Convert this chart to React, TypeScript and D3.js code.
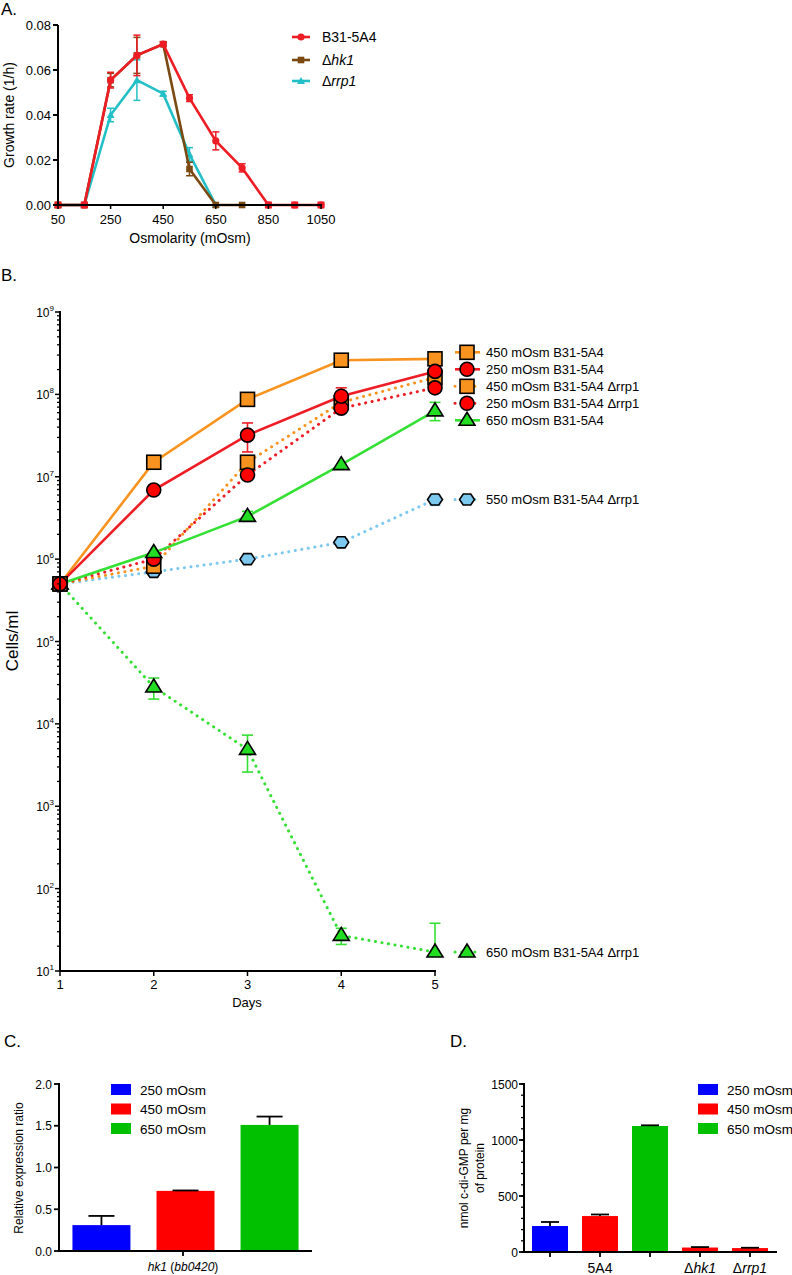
import React from 'react';
import * as d3 from 'd3';

// ---------- Panel A data ----------
const osm = [50, 150, 250, 350, 450, 550, 650, 750, 850, 950, 1050];
const aWT = [0, 0, 0.0555, 0.0665, 0.0715, 0.0475, 0.0285, 0.0165, 0, 0, 0];
const aWTErr = [0, 0, 0.0035, 0.009, 0.001, 0.0015, 0.004, 0.0018, 0, 0, 0];
const aHk1 = [0, 0, 0.0555, 0.0665, 0.0715, 0.016, 0, 0];
const aHk1Err = [0, 0, 0.003, 0.008, 0.001, 0.003, 0, 0];
const aRrp1 = [0, 0, 0.04, 0.0555, 0.0495, 0.0225, 0];
const aRrp1Err = [0, 0, 0.003, 0.009, 0.001, 0.003, 0];
const aYTicks = [0, 0.02, 0.04, 0.06, 0.08];
const aXTicks = [50, 250, 450, 650, 850, 1050];

// ---------- Panel B data ----------
const days = [1, 2, 3, 4, 5];
const b450 = [5e5, 1.5e7, 8.7e7, 2.6e8, 2.7e8];
const b450Lo = [null, null, null, null, 2.5e8];
const b450Hi = [null, null, null, null, 2.95e8];
const b250 = [5e5, 6.9e6, 3.2e7, 9.5e7, 1.9e8];
const b250Lo = [null, null, 2.0e7, 8.0e7, 1.7e8];
const b250Hi = [null, null, 4.5e7, 1.2e8, 2.1e8];
const b450rrp = [5e5, 8.2e5, 1.5e7, 8.0e7, 1.6e8];
const b450rrpLo = [null, 7.5e5, 1.25e7, null, 1.4e8];
const b450rrpHi = [null, 9.0e5, 1.8e7, null, 1.8e8];
const b250rrp = [5e5, 1.0e6, 1.05e7, 6.8e7, 1.2e8];
const b250rrpLo = [null, 8.5e5, null, null, null];
const b250rrpHi = [null, 1.15e6, null, null, null];
const b650 = [5e5, 1.2e6, 3.3e6, 1.4e7, 6.3e7];
const b650Lo = [null, null, 3.0e6, null, 4.8e7];
const b650Hi = [null, null, 3.8e6, null, 8.0e7];
const b550rrp = [5e5, 7.0e5, 1.0e6, 1.6e6, 5.3e6];
const b550rrpLo = [null, null, null, null, 4.5e6];
const b550rrpHi = [null, null, null, null, 6.0e6];
const b650rrp = [5e5, 2.8e4, 4.9e3, 27, 17];
const b650rrpLo = [null, 2.0e4, 2.6e3, 21, null];
const b650rrpHi = [null, 3.6e4, 7.3e3, 33, 38];
const bYExp = [1, 2, 3, 4, 5, 6, 7, 8, 9];

// ---------- Panel C data ----------
const cCats = ['250 mOsm', '450 mOsm', '650 mOsm'];
const cVals = [0.31, 0.72, 1.51];
const cErr = [0.11, 0.005, 0.1];
const cYTicks = [0, 0.5, 1.0, 1.5, 2.0];

// ---------- Panel D data ----------
const dCats = ['a', '5A4', 'b', 'hk1', 'rrp1'];
const dVals = [232, 321, 1125, 40, 35];
const dErr = [36, 14, 6, 4, 3];
const dColorIdx = [0, 1, 2, 1, 1];
const dYTicks = [0, 500, 1000, 1500];

const FONT = "'Liberation Sans', Arial, Helvetica, sans-serif";
const barColors = ['#0000FF', '#FF0000', '#00C000'];

const C = {
  orange: '#F7931E',
  red: '#EE1C24',
  green: '#33E033',
  blue: '#7DC8EE',
  aRed: '#EE1C24',
  aBrown: '#7B4A12',
  aCyan: '#22C0C6',
};

function Marker({ shape, x, y, fill, s = 1 }: any) {
  const st = { fill, stroke: '#000', strokeWidth: 1.6 };
  if (shape === 'square') {
    const h = 7 * s;
    return <rect x={x - h} y={y - h} width={2 * h} height={2 * h} {...st} />;
  }
  if (shape === 'circle') return <circle cx={x} cy={y} r={7 * s} {...st} />;
  if (shape === 'triangle') {
    const w = 8 * s, h = 13 * s;
    return <path d={`M${x},${y - h * 0.62}L${x + w},${y + h * 0.38}L${x - w},${y + h * 0.38}Z`} {...st} />;
  }
  const r = 7.5 * s;
  const pts = d3.range(6).map(i => {
    const a = (Math.PI / 3) * i;
    return `${x + r * Math.cos(a)},${y + r * 0.85 * Math.sin(a)}`;
  });
  return <path d={`M${pts.join('L')}Z`} {...st} />;
}

function SmallMarker({ shape, x, y, color }: any) {
  if (shape === 'circle') return <circle cx={x} cy={y} r={3.6} fill={color} />;
  if (shape === 'square') return <rect x={x - 3.3} y={y - 3.3} width={6.6} height={6.6} fill={color} />;
  return <path d={`M${x},${y - 4}L${x + 4},${y + 3}L${x - 4},${y + 3}Z`} fill={color} />;
}

export default function App() {
  // ---------------- Panel A ----------------
  const xA = d3.scaleLinear().domain([50, 1050]).range([58, 321]);
  const yA = d3.scaleLinear().domain([0, 0.08]).range([205, 25]);
  const lineA = d3.line<number>().x((_, i) => xA(osm[i])).y(d => yA(d));
  const aSeries = [
    { name: 'rrp1', vals: aRrp1, err: aRrp1Err, color: C.aCyan, shape: 'triangle' },
    { name: 'hk1', vals: aHk1, err: aHk1Err, color: C.aBrown, shape: 'square' },
    { name: 'wt', vals: aWT, err: aWTErr, color: C.aRed, shape: 'circle' },
  ];

  // ---------------- Panel B ----------------
  const xB = d3.scaleLinear().domain([1, 5]).range([60, 435]);
  const yB = d3.scaleLog().domain([10, 1e9]).range([971, 312]);
  const lineB = d3.line<number>().x((_, i) => xB(days[i])).y(d => yB(d));
  const bSeries = [
    { label: '650 mOsm B31-5A4 \u0394rrp1', vals: b650rrp, lo: b650rrpLo, hi: b650rrpHi, color: C.green, fill: '#22DD22', shape: 'triangle', dotted: true },
    { label: '550 mOsm B31-5A4 \u0394rrp1', vals: b550rrp, lo: b550rrpLo, hi: b550rrpHi, color: C.blue, fill: '#7DC8EE', shape: 'hex', dotted: true },
    { label: '450 mOsm B31-5A4 \u0394rrp1', vals: b450rrp, lo: b450rrpLo, hi: b450rrpHi, color: C.orange, fill: '#F7931E', shape: 'square', dotted: true },
    { label: '250 mOsm B31-5A4 \u0394rrp1', vals: b250rrp, lo: b250rrpLo, hi: b250rrpHi, color: C.red, fill: '#FF0000', shape: 'circle', dotted: true },
    { label: '650 mOsm B31-5A4', vals: b650, lo: b650Lo, hi: b650Hi, color: C.green, fill: '#22DD22', shape: 'triangle', dotted: false },
    { label: '450 mOsm B31-5A4', vals: b450, lo: b450Lo, hi: b450Hi, color: C.orange, fill: '#F7931E', shape: 'square', dotted: false },
    { label: '250 mOsm B31-5A4', vals: b250, lo: b250Lo, hi: b250Hi, color: C.red, fill: '#FF0000', shape: 'circle', dotted: false },
  ];
  const gap = 17;
  const legendItems = bSeries.map(s => ({ s, y0: yB(s.vals[s.vals.length - 1]) })).sort((a, b) => a.y0 - b.y0);
  const groups: any[][] = [];
  legendItems.forEach(it => {
    const g = groups[groups.length - 1];
    if (g && it.y0 - g[g.length - 1].y0 < gap * 2.5) g.push(it);
    else groups.push([it]);
  });
  const legendPos: any[] = [];
  groups.forEach(g => {
    const mean = d3.mean(g, (d: any) => d.y0) as number;
    const shift = g.length > 1 ? 5 : 0;
    g.forEach((it, i) => legendPos.push({ s: it.s, y: mean + shift + (i - (g.length - 1) / 2) * gap }));
  });
  const minorB: number[] = [];
  for (let e = 1; e < 9; e++) for (let m = 2; m <= 9; m++) minorB.push(m * Math.pow(10, e));

  // ---------------- Panel C ----------------
  const yC = d3.scaleLinear().domain([0, 2]).range([1251, 1084]);
  const xC = d3.scaleBand<string>().domain(cCats).range([59, 312]).paddingInner(0.31).paddingOuter(0.16);

  // ---------------- Panel D ----------------
  const yD = d3.scaleLinear().domain([0, 1500]).range([1252, 1084]);
  const xD = d3.scaleBand<string>().domain(dCats).range([524, 776]).paddingInner(0.28).paddingOuter(0.16);
  const minorD = d3.range(0, 1501, 100);

  const txt = { fontFamily: FONT, fill: '#000' } as any;

  return (
    <div style={{ position: 'absolute', left: 0, top: 0 }}>
      <svg width={792} height={1275} style={{ display: 'block', background: '#fff' }}>
        {/* ================= Panel A ================= */}
        <text x={1} y={15} fontSize={17} {...txt}>A.</text>
        {aSeries.map(s => (
          <g key={s.name}>
            <path d={lineA(s.vals) as string} fill="none" stroke={s.color} strokeWidth={2.6} />
            {s.vals.map((v, i) => s.err[i] > 0 ? (
              <g key={i} stroke={s.color} strokeWidth={1.5}>
                <line x1={xA(osm[i])} x2={xA(osm[i])} y1={yA(v - s.err[i])} y2={yA(v + s.err[i])} />
                <line x1={xA(osm[i]) - 3.5} x2={xA(osm[i]) + 3.5} y1={yA(v - s.err[i])} y2={yA(v - s.err[i])} />
                <line x1={xA(osm[i]) - 3.5} x2={xA(osm[i]) + 3.5} y1={yA(v + s.err[i])} y2={yA(v + s.err[i])} />
              </g>
            ) : null)}
            {s.vals.map((v, i) => <SmallMarker key={'m' + i} shape={s.shape} x={xA(osm[i])} y={yA(v)} color={s.color} />)}
          </g>
        ))}
        {osm.filter(v => v <= 150 || v >= 850).map((v, i) => (
          <rect key={'z' + i} x={xA(v) - 3.5} y={yA(0) - 3.5} width={7} height={7} fill={C.aRed} />
        ))}
        <line x1={58} x2={58} y1={25} y2={206} stroke="#000" strokeWidth={2} />
        <line x1={57} x2={322} y1={205} y2={205} stroke="#000" strokeWidth={2} />
        {aYTicks.map(t => (
          <g key={t}>
            <line x1={53} x2={58} y1={yA(t)} y2={yA(t)} stroke="#000" strokeWidth={2} />
            <text x={51} y={yA(t) + 4.5} fontSize={13} textAnchor="end" {...txt}>{t.toFixed(2)}</text>
          </g>
        ))}
        {aXTicks.map(t => (
          <g key={t}>
            <line x1={xA(t)} x2={xA(t)} y1={205} y2={209} stroke="#000" strokeWidth={1.5} />
            <text x={xA(t)} y={224} fontSize={13} textAnchor="middle" {...txt}>{t}</text>
          </g>
        ))}
        <text x={190} y={243} fontSize={14} textAnchor="middle" {...txt}>Osmolarity (mOsm)</text>
        <text transform="translate(14,115) rotate(-90)" fontSize={14} textAnchor="middle" {...txt}>Growth rate (1/h)</text>
        {[
          { c: C.aRed, sh: 'circle', y: 37, lab: <tspan>B31-5A4</tspan> },
          { c: C.aBrown, sh: 'square', y: 60, lab: <><tspan>{'\u0394'}</tspan><tspan fontStyle="italic">hk1</tspan></> },
          { c: C.aCyan, sh: 'triangle', y: 81, lab: <><tspan>{'\u0394'}</tspan><tspan fontStyle="italic">rrp1</tspan></> },
        ].map((l, i) => (
          <g key={i}>
            <line x1={292} x2={310} y1={l.y} y2={l.y} stroke={l.c} strokeWidth={2.6} />
            <SmallMarker shape={l.sh} x={301} y={l.y} color={l.c} />
            <text x={322} y={l.y + 5} fontSize={14} {...txt}>{l.lab}</text>
          </g>
        ))}

        {/* ================= Panel B ================= */}
        <text x={1} y={281} fontSize={17} {...txt}>B.</text>
        {bSeries.map((s, k) => (
          <path key={'l' + k} d={lineB(s.vals) as string} fill="none" stroke={s.color}
            strokeWidth={s.dotted ? 3 : 2.6} strokeLinecap={s.dotted ? 'round' : 'butt'}
            strokeDasharray={s.dotted ? '0.1 6.5' : undefined} />
        ))}
        {bSeries.map((s, k) => (
          <g key={'e' + k} stroke={s.color} strokeWidth={1.6}>
            {s.vals.map((v, i) => {
              const lo = s.lo[i], hi = s.hi[i];
              if (lo == null && hi == null) return null;
              const x = xB(days[i]);
              const y1 = yB(lo ?? v), y2 = yB(hi ?? v);
              return (
                <g key={i}>
                  <line x1={x} x2={x} y1={y1} y2={y2} />
                  {lo != null && <line x1={x - 5.5} x2={x + 5.5} y1={y1} y2={y1} />}
                  {hi != null && <line x1={x - 5.5} x2={x + 5.5} y1={y2} y2={y2} />}
                </g>
              );
            })}
          </g>
        ))}
        {bSeries.map((s, k) => (
          <g key={'m' + k}>
            {s.vals.map((v, i) => <Marker key={i} shape={s.shape} x={xB(days[i])} y={yB(v)} fill={s.fill} />)}
          </g>
        ))}
        <line x1={60} x2={60} y1={311} y2={972} stroke="#000" strokeWidth={2} />
        <line x1={59} x2={436} y1={971} y2={971} stroke="#000" strokeWidth={2} />
        {minorB.map((v, i) => (
          <line key={i} x1={57} x2={60} y1={yB(v)} y2={yB(v)} stroke="#000" strokeWidth={1.3} />
        ))}
        {bYExp.map(e => (
          <g key={e}>
            <line x1={55} x2={60} y1={yB(Math.pow(10, e))} y2={yB(Math.pow(10, e))} stroke="#000" strokeWidth={1.5} />
            <text x={54} y={yB(Math.pow(10, e)) + 5} fontSize={12} textAnchor="end" {...txt}>
              10<tspan fontSize={8} dy={-6}>{e}</tspan>
            </text>
          </g>
        ))}
        {days.map(d => (
          <g key={d}>
            <line x1={xB(d)} x2={xB(d)} y1={971} y2={976} stroke="#000" strokeWidth={1.5} />
            <text x={xB(d)} y={989} fontSize={13} textAnchor="middle" {...txt}>{d}</text>
          </g>
        ))}
        <text x={247} y={1007} fontSize={13} textAnchor="middle" {...txt}>Days</text>
        <text transform="translate(18,641) rotate(-90)" fontSize={17} textAnchor="middle" {...txt}>Cells/ml</text>
        {legendPos.map((l, i) => (
          <g key={i}>
            <line x1={455} x2={480} y1={l.y} y2={l.y} stroke={l.s.color}
              strokeWidth={l.s.dotted ? 3 : 2.6} strokeLinecap={l.s.dotted ? 'round' : 'butt'}
              strokeDasharray={l.s.dotted ? '0.1 6.5' : undefined} />
            <Marker shape={l.s.shape} x={467} y={l.y} fill={l.s.fill} />
            <text x={486} y={l.y + 4.5} fontSize={13} {...txt}>{l.s.label}</text>
          </g>
        ))}

        {/* ================= Panel C ================= */}
        <text x={4} y={1047} fontSize={17} {...txt}>C.</text>
        {cCats.map((c, i) => {
          const x = xC(c) as number, w = xC.bandwidth();
          return (
            <g key={c}>
              <rect x={x} y={yC(cVals[i])} width={w} height={yC(0) - yC(cVals[i])} fill={barColors[i]} />
              <line x1={x + w / 2} x2={x + w / 2} y1={yC(cVals[i])} y2={yC(cVals[i] + cErr[i])} stroke="#000" strokeWidth={1.8} />
              <line x1={x + w / 2 - 13} x2={x + w / 2 + 13} y1={yC(cVals[i] + cErr[i])} y2={yC(cVals[i] + cErr[i])} stroke="#000" strokeWidth={1.8} />
            </g>
          );
        })}
        <line x1={59} x2={59} y1={1083} y2={1252} stroke="#000" strokeWidth={2} />
        <line x1={58} x2={312} y1={1251} y2={1251} stroke="#000" strokeWidth={2} />
        {cYTicks.map(t => (
          <g key={t}>
            <line x1={54} x2={59} y1={yC(t)} y2={yC(t)} stroke="#000" strokeWidth={1.8} />
            <text x={52} y={yC(t) + 4.5} fontSize={12} textAnchor="end" {...txt}>{t.toFixed(1)}</text>
          </g>
        ))}
        <line x1={183} x2={183} y1={1251} y2={1256} stroke="#000" strokeWidth={1.8} />
        <text x={183} y={1271} fontSize={12} textAnchor="middle" fontStyle="italic" {...txt}>
          hk1 <tspan fontStyle="normal">(</tspan>bb0420<tspan fontStyle="normal">)</tspan>
        </text>
        <text transform="translate(23,1168) rotate(-90)" fontSize={12} textAnchor="middle" {...txt}>Relative expression ratio</text>
        {cCats.map((c, i) => (
          <g key={'lg' + c}>
            <rect x={111} y={1084 + i * 19.5} width={20} height={11} fill={barColors[i]} />
            <text x={140} y={1094.5 + i * 19.5} fontSize={13.5} {...txt}>{c}</text>
          </g>
        ))}

        {/* ================= Panel D ================= */}
        <text x={450} y={1047} fontSize={17} {...txt}>D.</text>
        {dCats.map((c, i) => {
          const x = xD(c) as number, w = xD.bandwidth();
          return (
            <g key={c}>
              <rect x={x} y={yD(dVals[i])} width={w} height={yD(0) - yD(dVals[i])} fill={barColors[dColorIdx[i]]} />
              <line x1={x + w / 2} x2={x + w / 2} y1={yD(dVals[i])} y2={yD(dVals[i] + dErr[i])} stroke="#000" strokeWidth={1.8} />
              <line x1={x + w / 2 - 9} x2={x + w / 2 + 9} y1={yD(dVals[i] + dErr[i])} y2={yD(dVals[i] + dErr[i])} stroke="#000" strokeWidth={1.8} />
            </g>
          );
        })}
        <line x1={524} x2={524} y1={1083} y2={1253} stroke="#000" strokeWidth={2} />
        <line x1={523} x2={777} y1={1252} y2={1252} stroke="#000" strokeWidth={2} />
        {minorD.map(t => (
          <line key={t} x1={521} x2={524} y1={yD(t)} y2={yD(t)} stroke="#000" strokeWidth={1.3} />
        ))}
        {dYTicks.map(t => (
          <g key={t}>
            <line x1={519} x2={524} y1={yD(t)} y2={yD(t)} stroke="#000" strokeWidth={1.8} />
            <text x={518} y={yD(t) + 4.5} fontSize={12} textAnchor="end" {...txt}>{t}</text>
          </g>
        ))}
        {dCats.map(c => {
          const xm = (xD(c) as number) + xD.bandwidth() / 2;
          let lab: any = null;
          if (c === '5A4') lab = '5A4';
          else if (c === 'hk1' || c === 'rrp1') lab = <><tspan>{'\u0394'}</tspan><tspan fontStyle="italic">{c}</tspan></>;
          return (
            <g key={'t' + c}>
              <line x1={xm} x2={xm} y1={1252} y2={1257} stroke="#000" strokeWidth={1.8} />
              {lab && <text x={xm} y={1273} fontSize={14} textAnchor="middle" {...txt}>{lab}</text>}
            </g>
          );
        })}
        <text transform="translate(468,1168) rotate(-90)" fontSize={12} textAnchor="middle" {...txt}>nmol c-di-GMP per mg</text>
        <text transform="translate(484,1168) rotate(-90)" fontSize={12} textAnchor="middle" {...txt}>of protein</text>
        {cCats.map((c, i) => (
          <g key={'lgd' + c}>
            <rect x={698} y={1084 + i * 19.5} width={20} height={11} fill={barColors[i]} />
            <text x={727} y={1094.5 + i * 19.5} fontSize={13.5} {...txt}>{c}</text>
          </g>
        ))}
      </svg>
    </div>
  );
}
